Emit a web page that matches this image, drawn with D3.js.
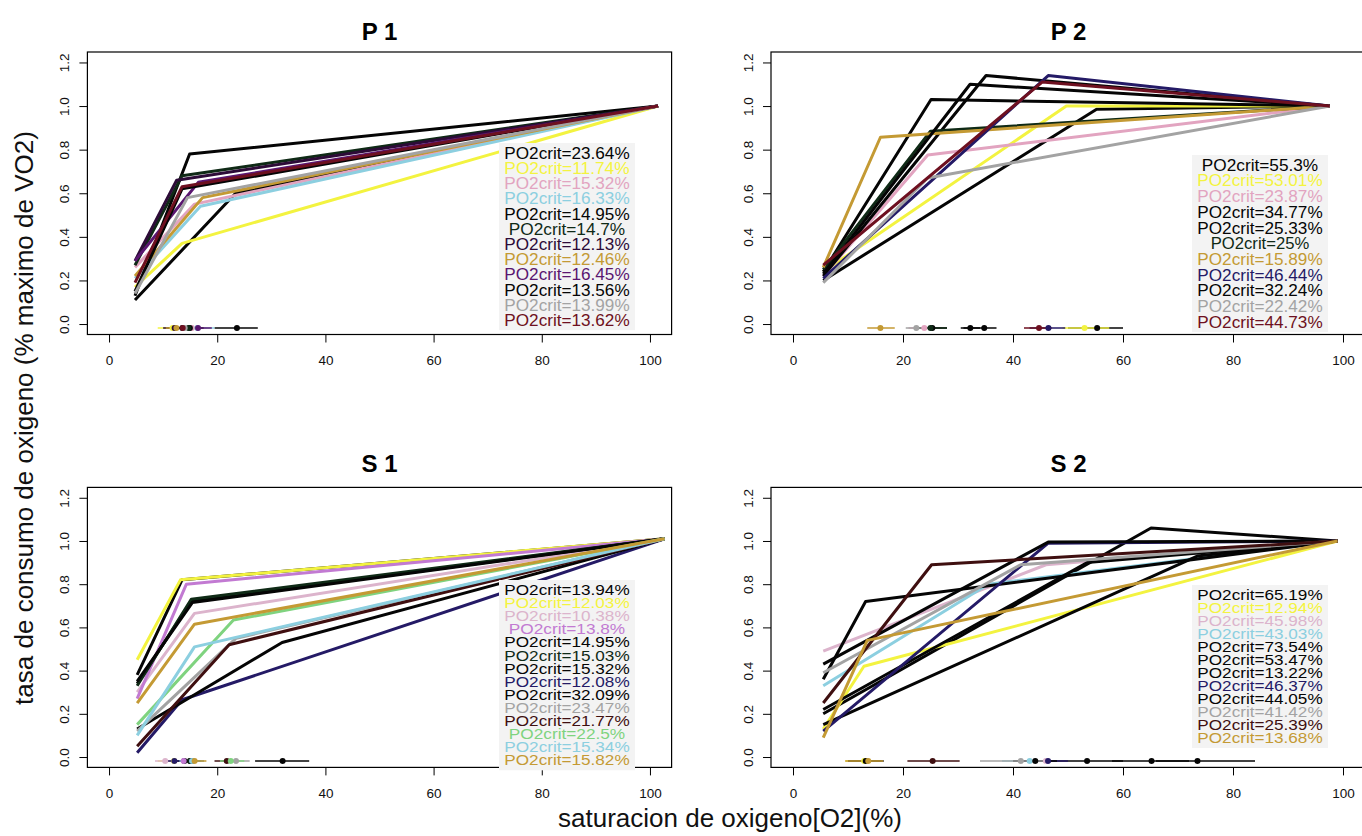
<!DOCTYPE html>
<html>
<head>
<meta charset="utf-8">
<script src="https://cdn.jsdelivr.net/npm/d3@7"></script>
<style>
  body { margin: 0; background: #fff; }
  svg { display: block; font-family: "Liberation Sans", Arial, sans-serif; }
</style>
</head>
<body>
<svg id="chart"></svg>
<script>
const W = 1362, H = 836;

const xTicks = [0, 20, 40, 60, 80, 100];
const yTicks = [0, 0.2, 0.4, 0.6, 0.8, 1.0, 1.2];

const BLACK = '#050505', YELLOW = '#f3f340', PINK = '#e2a4c0', LBLUE = '#8ccfe0',
      DGREEN = '#0f2a16', DPURPLE = '#2d0b38', GOLD = '#c49a34', PURPLE = '#5a1670',
      GRAY = '#a3a3a3', DRED = '#6e1020', NAVY = '#241a66', ORCHID = '#c27ad2',
      LGREEN = '#7fd37f', BROWN = '#3f0f10', LPINK = '#dcb4cc';

// P 1
const p1Crit   = [23.64, 11.74, 15.32, 16.33, 14.95, 14.7, 12.13, 12.46, 16.45, 13.56, 13.99, 13.62];
const p1Color  = [BLACK, YELLOW, PINK, LBLUE, BLACK, DGREEN, DPURPLE, GOLD, PURPLE, BLACK, GRAY, DRED];
const p1StartY = [0.11, 0.17, 0.26, 0.21, 0.13, 0.27, 0.29, 0.22, 0.29, 0.15, 0.14, 0.19];
const p1BpX    = [23.4, 13.5, 15.8, 16.9, 14.9, 13.5, 12.5, 17.3, 16.5, 13.5, 14.5, 13.5];
const p1BpY    = [0.60, 0.37, 0.55, 0.54, 0.78, 0.68, 0.66, 0.58, 0.65, 0.62, 0.58, 0.63];
const p1CiLo   = [19.5, 9, 12, 14, 12, 12, 10, 10.5, 14, 11.5, 12, 11.5];
const p1CiHi   = [27.5, 14, 18, 19.5, 17.5, 17, 14, 14.5, 19, 16, 16, 16];

// P 2
const p2Crit   = [55.3, 53.01, 23.87, 34.77, 25.33, 25, 15.89, 46.44, 32.24, 22.42, 44.73];
const p2Color  = [BLACK, YELLOW, PINK, BLACK, BLACK, DGREEN, GOLD, NAVY, BLACK, GRAY, DRED];
const p2StartY = [0.20, 0.24, 0.22, 0.22, 0.24, 0.25, 0.26, 0.21, 0.23, 0.19, 0.27];
const p2BpX    = [55.2, 49.7, 24.5, 35.1, 25.1, 25, 15.9, 46.4, 32.2, 24.5, 45.3];
const p2BpY    = [0.985, 1.0, 0.775, 1.14, 1.03, 0.885, 0.857, 1.14, 1.10, 0.67, 1.11];
const p2CiLo   = [50, 49, 21, 31, 22, 22, 13.5, 43, 30.5, 20.5, 42];
const p2CiHi   = [60, 57.5, 27, 37, 28, 28, 18.5, 49.5, 34, 24.5, 47];

// S 1
const s1Crit   = [13.94, 12.03, 10.38, 13.8, 14.95, 15.03, 15.32, 12.08, 32.09, 23.47, 21.77, 22.5, 15.34, 15.82];
const s1Color  = [BLACK, YELLOW, LPINK, ORCHID, BLACK, DGREEN, BLACK, NAVY, BLACK, GRAY, BROWN, LGREEN, LBLUE, GOLD];
const s1StartY = [0.38, 0.45, 0.30, 0.27, 0.34, 0.33, 0.35, 0.02, 0.13, 0.12, 0.05, 0.15, 0.10, 0.25];
const s1BpX    = [13.5, 13.2, 15.8, 14.3, 15.2, 15.2, 15.4, 13.5, 32, 23.5, 22.2, 23, 15.8, 15.8];
const s1BpY    = [0.82, 0.82, 0.665, 0.80, 0.72, 0.73, 0.715, 0.265, 0.53, 0.55, 0.52, 0.634, 0.51, 0.615];
const s1CiLo   = [10, 9, 8.5, 11.5, 12.5, 13, 13, 10, 27, 21, 19.5, 20.5, 13, 13.5];
const s1CiHi   = [17, 15, 12.5, 16, 17, 17, 17.5, 14, 37, 26, 24, 25, 17.5, 18];

// S 2
const s2Crit   = [65.19, 12.94, 45.98, 43.03, 73.54, 53.47, 13.22, 46.37, 44.05, 41.42, 25.39, 13.68];
const s2Color  = [BLACK, YELLOW, LPINK, LBLUE, BLACK, BLACK, BLACK, NAVY, BLACK, GRAY, BROWN, GOLD];
const s2StartY = [0.20, 0.13, 0.49, 0.33, 0.15, 0.22, 0.36, 0.12, 0.43, 0.39, 0.25, 0.09];
const s2BpX    = [65.1, 12.9, 46, 35.5, 73.5, 53.5, 13.2, 46.4, 46.4, 41.4, 25.2, 13.5];
const s2BpY    = [1.06, 0.42, 0.89, 0.80, 0.93, 0.90, 0.72, 0.99, 0.995, 0.89, 0.89, 0.54];
const s2CiLo   = [58, 9.5, 40, 38, 66, 46, 10, 42, 40, 34, 20.8, 9.5];
const s2CiHi   = [72, 16, 50, 47, 84, 60, 16.5, 50, 48, 46, 30.3, 16.4];

const panelNames = ['P 1', 'P 2', 'S 1', 'S 2'];
const panelStartX = [4.8, 5.5, 5.2, 5.5];
const panelEndX   = [101.5, 97.6, 102.7, 99];
const panelEndY   = [1.0, 1.0, 1.01, 1.0];

// layout of each panel (pixels)
const layout = [
  { left: 87.4, right: 671.6, top: 52,    bottom: 334.5, legX: 567,  legY: 153, legStep: 15.2, legFont: 16, titleY: 40 },
  { left: 771,  right: 1365,  top: 52,    bottom: 334.5, legX: 1260, legY: 165, legStep: 15.7, legFont: 16, titleY: 40 },
  { left: 87.4, right: 671.6, top: 487.4, bottom: 767.4, legX: 567,  legY: 590, legStep: 13.1, legFont: 14, titleY: 472 },
  { left: 771,  right: 1365,  top: 487.4, bottom: 767.4, legX: 1260, legY: 595, legStep: 13.0, legFont: 14, titleY: 472 }
];

const seriesData = [
  [p1Crit, p1Color, p1StartY, p1BpX, p1BpY, p1CiLo, p1CiHi],
  [p2Crit, p2Color, p2StartY, p2BpX, p2BpY, p2CiLo, p2CiHi],
  [s1Crit, s1Color, s1StartY, s1BpX, s1BpY, s1CiLo, s1CiHi],
  [s2Crit, s2Color, s2StartY, s2BpX, s2BpY, s2CiLo, s2CiHi]
];

const svg = d3.select('#chart').attr('width', W).attr('height', H);
svg.append('rect').attr('width', W).attr('height', H).attr('fill', '#fff');

// rough text width of the legend labels at 16.5px, to keep the legend as wide as the reference
const legWidth = label => label.length * 8.95;

seriesData.forEach((arr, i) => {
  const [crit, colors, startY, bpX, bpY, ciLo, ciHi] = arr;
  const p = layout[i];
  const x = d3.scaleLinear().domain([-4, 104]).range([p.left, p.right]);
  const y = d3.scaleLinear().domain([-0.048, 1.248]).range([p.bottom, p.top]);

  svg.append('clipPath').attr('id', 'clip' + i)
    .append('rect')
    .attr('x', p.left).attr('y', p.top)
    .attr('width', p.right - p.left).attr('height', p.bottom - p.top);

  const g = svg.append('g').attr('clip-path', `url(#clip${i})`);

  const line = d3.line().x(d => x(d[0])).y(d => y(d[1]));

  crit.forEach((c, k) => {
    g.append('path')
      .datum([[panelStartX[i], startY[k]], [bpX[k], bpY[k]], [panelEndX[i], panelEndY[i]]])
      .attr('fill', 'none')
      .attr('stroke', colors[k])
      .attr('stroke-width', 3)
      .attr('stroke-linejoin', 'round')
      .attr('d', line);
  });

  // PO2crit points with intervals
  const yDot = y(-0.018);
  crit.forEach((c, k) => {
    g.append('line')
      .attr('x1', x(ciLo[k])).attr('x2', x(ciHi[k]))
      .attr('y1', yDot).attr('y2', yDot)
      .attr('stroke', colors[k]).attr('stroke-width', 1.5);
  });
  crit.forEach((c, k) => {
    g.append('circle')
      .attr('cx', x(c)).attr('cy', yDot).attr('r', 3)
      .attr('fill', colors[k]);
  });

  // box
  svg.append('rect')
    .attr('x', p.left).attr('y', p.top)
    .attr('width', p.right - p.left).attr('height', p.bottom - p.top)
    .attr('fill', 'none').attr('stroke', '#000').attr('stroke-width', 1.2);

  // axes
  const xAxis = svg.append('g')
    .attr('transform', `translate(0, ${p.bottom})`)
    .call(d3.axisBottom(x).tickValues(xTicks).tickSize(8).tickPadding(13));
  xAxis.select('.domain').remove();
  xAxis.selectAll('text').style('font-size', '13.5px').attr('fill', '#111');

  const yAxis = svg.append('g')
    .attr('transform', `translate(${p.left}, 0)`)
    .call(d3.axisLeft(y).tickValues(yTicks).tickSize(8).tickFormat(d3.format('.1f')));
  yAxis.select('.domain').remove();
  yAxis.selectAll('text')
    .attr('transform', 'rotate(-90)')
    .attr('x', 0).attr('y', -18.5).attr('dy', 0)
    .style('text-anchor', 'middle')
    .style('font-size', '13.5px')
    .attr('fill', '#111');

  // title
  svg.append('text')
    .attr('x', (p.left + Math.min(p.right, W)) / 2 + (i % 2 ? 2 : 0))
    .attr('y', p.titleY)
    .attr('text-anchor', 'middle')
    .style('font-size', '24px').style('font-weight', 'bold')
    .text(panelNames[i]);

  // legend
  const n = crit.length;
  svg.append('rect')
    .attr('x', p.legX - 68).attr('y', p.legY - 10)
    .attr('width', 136).attr('height', (n - 1) * p.legStep + 20)
    .attr('fill', '#f3f3f3');
  crit.forEach((c, k) => {
    const label = 'PO2crit=' + c + '%';
    svg.append('text')
      .attr('x', p.legX).attr('y', p.legY + k * p.legStep + p.legFont * 0.36)
      .attr('text-anchor', 'middle')
      .attr('textLength', legWidth(label))
      .attr('lengthAdjust', 'spacingAndGlyphs')
      .style('font-size', p.legFont + 'px')
      .attr('fill', colors[k])
      .text(label);
  });
});

// outer labels
svg.append('text')
  .attr('transform', 'translate(33, 418) rotate(-90)')
  .attr('text-anchor', 'middle')
  .style('font-size', '26px')
  .attr('fill', '#111')
  .text('tasa de consumo de oxigeno (% maximo de VO2)');

svg.append('text')
  .attr('x', 730).attr('y', 827)
  .attr('text-anchor', 'middle')
  .style('font-size', '26px')
  .attr('fill', '#111')
  .text('saturacion de oxigeno[O2](%)');
</script>
</body>
</html>
